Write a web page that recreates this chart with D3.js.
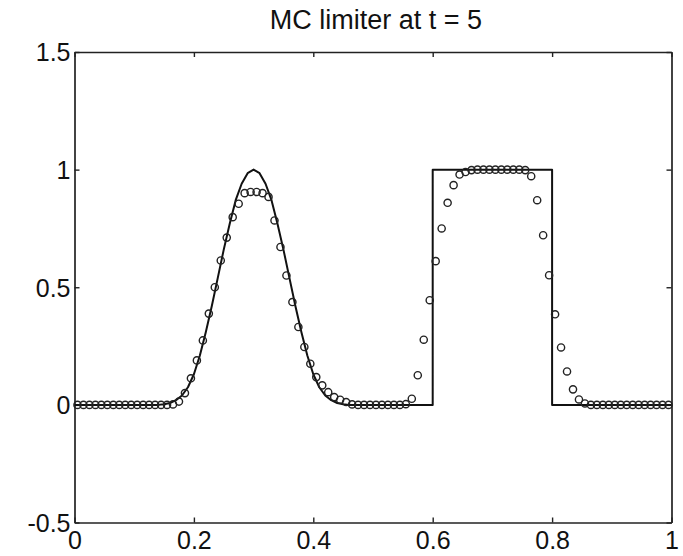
<!DOCTYPE html>
<html>
<head>
<meta charset="utf-8">
<script src="https://cdn.jsdelivr.net/npm/d3@7"></script>
<style>
html, body { margin: 0; padding: 0; background: #fff; }
svg { display: block; }
text { font-family: "Liberation Sans", Arial, sans-serif; fill: #111; }
</style>
</head>
<body>
<div id="chart"></div>
<script>
// ---- data ----
const titleText = "MC limiter at t = 5";
const xTicks = [0, 0.2, 0.4, 0.6, 0.8, 1];
const xTickLabels = ["0", "0.2", "0.4", "0.6", "0.8", "1"];
const yTicks = [-0.5, 0, 0.5, 1, 1.5];
const yTickLabels = ["-0.5", "0", "0.5", "1", "1.5"];

// exact solution (solid line)
const exactX = [0, 0.14, 0.15, 0.16, 0.17, 0.18, 0.19, 0.20, 0.21, 0.22, 0.23, 0.24, 0.25, 0.26, 0.27, 0.28, 0.29, 0.30,
  0.31, 0.32, 0.33, 0.34, 0.35, 0.36, 0.37, 0.38, 0.39, 0.40, 0.41, 0.42, 0.43, 0.44, 0.45, 0.46,
  0.6, 0.6, 0.8, 0.8, 1];
const exactY = [0, 0, 0.003, 0.008, 0.02, 0.04, 0.075, 0.13, 0.21, 0.31, 0.42, 0.54, 0.66, 0.77, 0.87, 0.94, 0.985, 1.0,
  0.985, 0.94, 0.87, 0.77, 0.66, 0.54, 0.42, 0.31, 0.21, 0.13, 0.075, 0.04, 0.02, 0.008, 0.003, 0,
  0, 1, 1, 0, 0];

// numerical solution (circles), cell centres 0.005 ... 0.995
const numX = d3.range(100).map(k => +(0.005 + 0.01 * k).toFixed(3));
const numY = [
  0, 0, 0, 0, 0, 0, 0, 0, 0, 0,
  0, 0, 0, 0, 0, 0, 0.002, 0.014, 0.05, 0.113,
  0.189, 0.274, 0.388, 0.50, 0.614, 0.711, 0.798, 0.855, 0.90, 0.905,
  0.905, 0.90, 0.884, 0.784, 0.671, 0.55, 0.437, 0.331, 0.246, 0.175,
  0.118, 0.083, 0.054, 0.033, 0.022, 0.012, 0.002, 0, 0, 0,
  0, 0, 0, 0, 0, 0.003, 0.026, 0.126, 0.277, 0.445,
  0.611, 0.750, 0.859, 0.934, 0.979, 0.990, 0.998, 1.0, 1.0, 1.0,
  1.0, 1.0, 1.0, 1.0, 1.0, 0.998, 0.972, 0.870, 0.721, 0.551,
  0.385, 0.244, 0.142, 0.066, 0.023, 0.006, 0, 0, 0, 0,
  0, 0, 0, 0, 0, 0, 0, 0, 0, 0
];

// ---- layout ----
const W = 683, H = 556;
const mLeft = 74.5, mRight = 671.5, mTop = 52, mBottom = 522.5;

const svg = d3.select("#chart").append("svg").attr("width", W).attr("height", H);

const x = d3.scaleLinear().domain([0, 1]).range([mLeft, mRight]);
const y = d3.scaleLinear().domain([-0.5, 1.5]).range([mBottom, mTop]);

// title
svg.append("text")
  .attr("x", 376).attr("y", 29)
  .attr("text-anchor", "middle")
  .style("font-size", "27px")
  .text(titleText);

const tickLen = 5;
const axisColor = "#222";

const gB = svg.append("g").attr("transform", `translate(0,${mBottom})`)
  .call(d3.axisBottom(x).tickValues(xTicks).tickFormat((d, i) => xTickLabels[i]).tickSizeInner(-tickLen).tickSizeOuter(0).tickPadding(9));
const gT = svg.append("g").attr("transform", `translate(0,${mTop})`)
  .call(d3.axisTop(x).tickValues(xTicks).tickFormat("").tickSizeInner(-tickLen).tickSizeOuter(0));
const gL = svg.append("g").attr("transform", `translate(${mLeft},0)`)
  .call(d3.axisLeft(y).tickValues(yTicks).tickFormat((d, i) => yTickLabels[i]).tickSizeInner(-tickLen).tickSizeOuter(0).tickPadding(4));
const gR = svg.append("g").attr("transform", `translate(${mRight},0)`)
  .call(d3.axisRight(y).tickValues(yTicks).tickFormat("").tickSizeInner(-tickLen).tickSizeOuter(0));

[gB, gT, gL, gR].forEach(g => {
  g.select(".domain").attr("stroke", axisColor).attr("stroke-width", 1.7);
  g.selectAll(".tick line").attr("stroke", axisColor).attr("stroke-width", 1.4);
  g.selectAll("text").style("font-size", "25px").attr("fill", "#111").attr("font-family", null);
});
gB.selectAll("text").attr("dy", "0.71em");
gL.selectAll("text").attr("dy", "0.35em");

// exact solution line
const exactPts = exactX.map((v, i) => [v, exactY[i]]);
svg.append("path")
  .datum(exactPts)
  .attr("fill", "none")
  .attr("stroke", "#111")
  .attr("stroke-width", 2)
  .attr("stroke-linejoin", "round")
  .attr("d", d3.line().x(d => x(d[0])).y(d => y(d[1])));

// numerical solution circles
svg.append("g").selectAll("circle")
  .data(numX.map((v, i) => [v, numY[i]]))
  .join("circle")
  .attr("cx", d => x(d[0]))
  .attr("cy", d => y(d[1]))
  .attr("r", 3.6)
  .attr("fill", "none")
  .attr("stroke", "#222")
  .attr("stroke-width", 1.4);
</script>
</body>
</html>
